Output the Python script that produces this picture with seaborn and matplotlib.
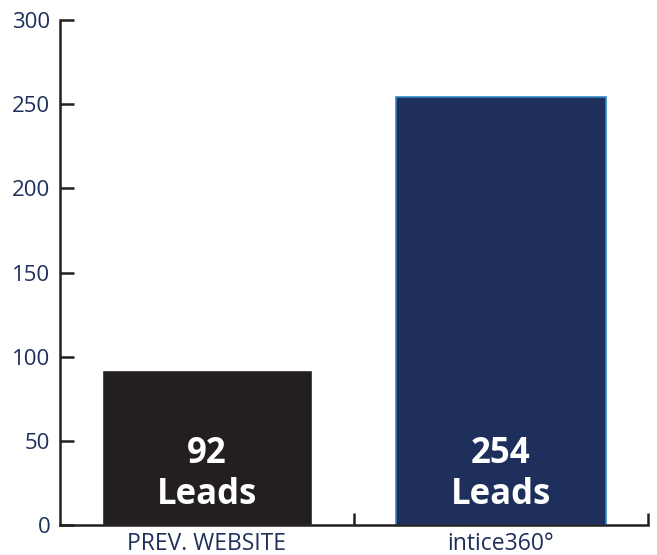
import matplotlib
matplotlib.use("Agg")
import matplotlib.pyplot as plt
import seaborn as sns
import pandas as pd

# Data
categories = ["PREV. WEBSITE", "intice360°"]
leads = [92, 254]
bar_colors = ["#231f20", "#1e2f5c"]
yticks = [0, 50, 100, 150, 200, 250, 300]

NAVY = "#1e2f5c"
DARK = "#231f20"

df = pd.DataFrame({"source": categories, "leads": leads})

sns.set_style("white")
plt.rcParams["font.family"] = ["Open Sans", "DejaVu Sans"]

fig = plt.figure(figsize=(6.57, 5.55), dpi=100)
ax = fig.add_axes([0.0913, 0.054, 0.895, 0.910])

sns.barplot(data=df, x="source", y="leads", hue="source", palette=bar_colors,
            width=0.715, legend=False, ax=ax, saturation=1)

# thin light-blue outline on the intice bar
ax.patches[1].set_edgecolor("#2f86c6")
ax.patches[1].set_linewidth(1.2)

# labels inside bars
for i, v in enumerate(leads):
    ax.text(i, 30, f"{v}\nLeads", ha="center", va="center", color="white",
            fontsize=25, fontweight="bold", linespacing=1.2)

ax.set_xlim(-0.5, 1.5)
ax.set_ylim(0, 300)
ax.set_yticks(yticks)
ax.set_xlabel("")
ax.set_ylabel("")

for s in ["top", "right"]:
    ax.spines[s].set_visible(False)
for s in ["left", "bottom"]:
    ax.spines[s].set_color(DARK)
    ax.spines[s].set_linewidth(1.8)

ax.tick_params(axis="y", direction="in", length=10, width=1.8, color=DARK,
               labelsize=16, labelcolor=NAVY, pad=7, left=True)
ax.tick_params(axis="x", which="major", length=0, labelsize=16.5,
               labelcolor=NAVY, pad=5)
ax.set_xticks([0.5, 1.5], minor=True)
ax.tick_params(axis="x", which="minor", direction="in", length=9, width=1.8,
               color=DARK, bottom=True)

fig.savefig("out.png", dpi=100)
